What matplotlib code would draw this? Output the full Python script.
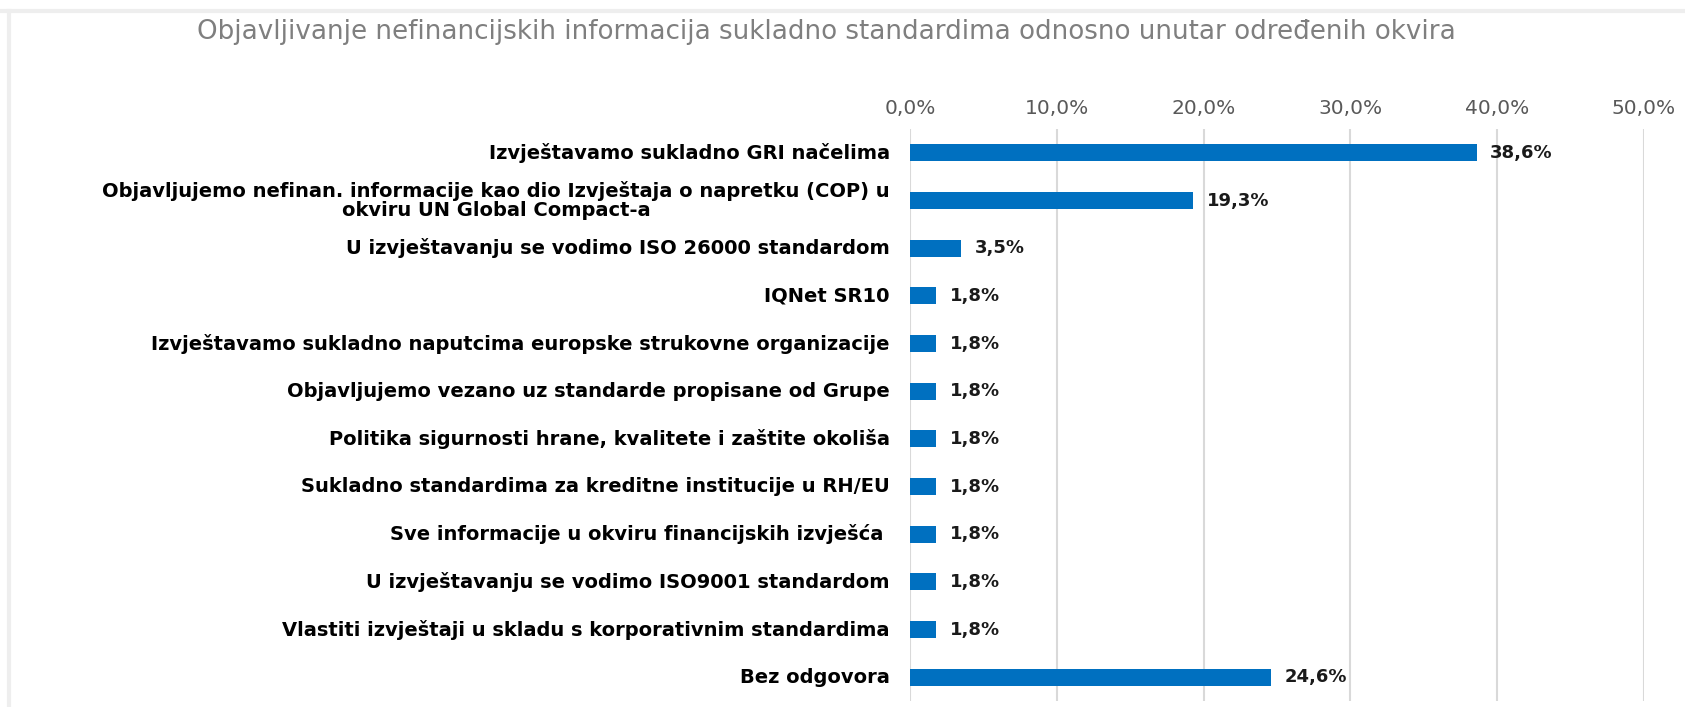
import matplotlib.pyplot as plt
from matplotlib.lines import Line2D

plt.rcParams['font.family'] = ['DejaVu Sans']

# data
title = "Objavljivanje nefinancijskih informacija sukladno standardima odnosno unutar određenih okvira"
categories = [
    "Izvještavamo sukladno GRI načelima",
    "Objavljujemo nefinan. informacije kao dio Izvještaja o napretku (COP) u\nokviru UN Global Compact-a",
    "U izvještavanju se vodimo ISO 26000 standardom",
    "IQNet SR10",
    "Izvještavamo sukladno naputcima europske strukovne organizacije",
    "Objavljujemo vezano uz standarde propisane od Grupe",
    "Politika sigurnosti hrane, kvalitete i zaštite okoliša",
    "Sukladno standardima za kreditne institucije u RH/EU",
    "Sve informacije u okviru financijskih izvješća ",
    "U izvještavanju se vodimo ISO9001 standardom",
    "Vlastiti izvještaji u skladu s korporativnim standardima",
    "Bez odgovora",
]
values = [38.6, 19.3, 3.5, 1.8, 1.8, 1.8, 1.8, 1.8, 1.8, 1.8, 1.8, 24.6]
ticks = [0, 10, 20, 30, 40, 50]

W, H = 1685, 707
fig = plt.figure(figsize=(W / 100, H / 100), dpi=100)

# light frame like the original screenshot
fig.add_artist(Line2D([0, 1], [1 - 10.5 / H] * 2, color='#eeeeee', lw=3))
fig.add_artist(Line2D([8.5 / W] * 2, [0, 1 - 10.5 / H], color='#eeeeee', lw=3))

ax = fig.add_axes([910 / W, 6 / H, (1644 - 910) / W, (701 - 129) / H])

y = range(len(categories))
ax.barh(y, values, height=0.36, color='#0070C0')
for i, v in enumerate(values):
    ax.text(v + 0.9, i, f"{v:.1f}%".replace('.', ','), va='center', ha='left',
            fontsize=13, fontweight='bold', color='#1a1a1a')

ax.set_xlim(0, 50)
ax.set_ylim(len(categories) - 0.5, -0.5)
ax.set_xticks(ticks)
ax.set_xticklabels([f"{t:.1f}%".replace('.', ',') for t in ticks], fontsize=14.5, color='#595959')
ax.xaxis.tick_top()
ax.set_yticks(list(y))
ax.set_yticklabels(categories, fontsize=14, fontweight='bold', color='#000000',
                   multialignment='center', linespacing=1.05, va='center')
ax.tick_params(axis='both', length=0)
ax.tick_params(axis='x', pad=8)
ax.tick_params(axis='y', pad=14.5)
ax.grid(axis='x', color='#d9d9d9', lw=1.5)
ax.set_axisbelow(True)
for s in ax.spines.values():
    s.set_visible(False)

fig.text(826 / W, 1 - 32 / H, title, ha='center', va='center', fontsize=18.8, color='#7f7f7f')

fig.savefig('out.png', dpi=100)
